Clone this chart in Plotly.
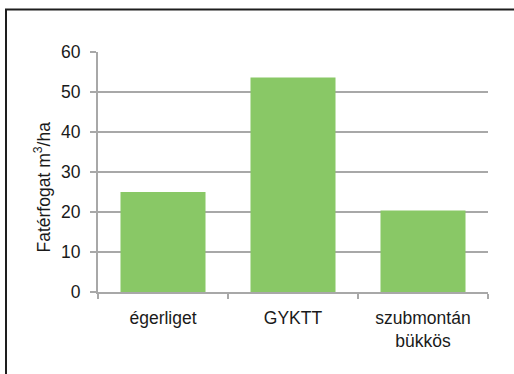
import plotly.graph_objects as go

# Wood volume per forest type
categories = ["égerliget", "GYKTT", "szubmontán<br>bükkös"]
volumes = [25.0, 53.6, 20.4]
y_ticks = [0, 10, 20, 30, 40, 50, 60]

W, H = 514, 374
L, R, T, B = 98, 26, 52, 82
plot_w = W - L - R
plot_h = H - T - B

grid = "#A8A8A8"
font_family = "Liberation Sans, Arial, sans-serif"
fs = 17.5

fig = go.Figure(
    go.Bar(
        x=categories,
        y=volumes,
        marker=dict(color="#89C866", line=dict(width=0)),
        hoverinfo="x+y",
    )
)

# outer frame (top and left edges visible)
def px_x(px):
    return (px - L) / plot_w

def px_y(py):
    return (H - B - py) / plot_h

fig.add_shape(
    type="rect", xref="paper", yref="paper",
    x0=px_x(6), x1=px_x(530), y0=px_y(390), y1=px_y(9.5),
    line=dict(color="#1E1E1E", width=2), fillcolor="rgba(0,0,0,0)",
    layer="below",
)

fig.add_annotation(
    xref="paper", yref="paper",
    x=px_x(42.5), y=px_y(187),
    text="Fatérfogat m<sup>3</sup>/ha",
    textangle=-90, showarrow=False,
    xanchor="center", yanchor="middle",
    font=dict(family=font_family, size=fs, color="#1A1A1A"),
)

fig.update_layout(
    width=W, height=H,
    margin=dict(l=L, r=R, t=T, b=B, pad=0),
    paper_bgcolor="white", plot_bgcolor="white",
    bargap=0.346,
    showlegend=False,
    font=dict(family=font_family, size=fs, color="#1A1A1A"),
    xaxis=dict(
        showgrid=False,
        showline=True, linecolor=grid, linewidth=2,
        ticks="outside", ticklen=5, tickwidth=2, tickcolor=grid,
        tickson="boundaries",
        ticklabelstandoff=9,
        tickfont=dict(size=fs),
        fixedrange=True,
    ),
    yaxis=dict(
        range=[0, 60],
        tickvals=y_ticks,
        showgrid=True, gridcolor=grid, gridwidth=2,
        zeroline=False,
        showline=True, linecolor=grid, linewidth=2,
        ticks="outside", ticklen=6, tickwidth=2, tickcolor=grid,
        ticklabelstandoff=6,
        tickfont=dict(size=fs),
        fixedrange=True,
    ),
)

fig.write_html("out.html")
